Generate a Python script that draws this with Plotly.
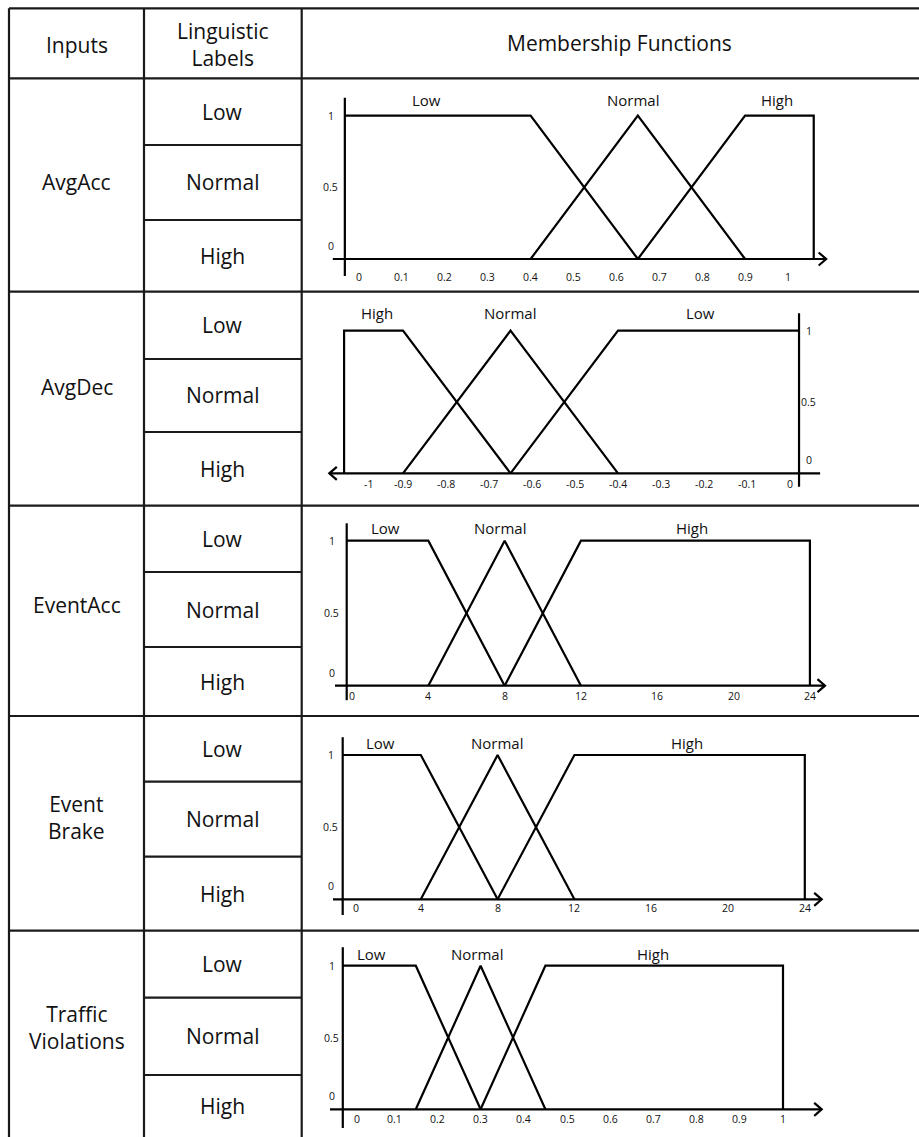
import plotly.graph_objects as go

W, H = 919, 1137

# ---------------- data ----------------
HEADERS = ["Inputs", "Linguistic<br>Labels", "Membership Functions"]
INPUTS = ["AvgAcc", "AvgDec", "EventAcc", "Event<br>Brake", "Traffic<br>Violations"]
LINGUISTIC = ["Low", "Normal", "High"]
MU_TICKS = [0, 0.5, 1]
MU_TICK_TEXT = ["0", "0.5", "1"]

# AvgAcc
AVGACC_LOW_X = [-0.033, 0.4, 0.65]
AVGACC_LOW_MU = [1, 1, 0]
AVGACC_NORMAL_X = [0.4, 0.65, 0.9]
AVGACC_NORMAL_MU = [0, 1, 0]
AVGACC_HIGH_X = [0.65, 0.9, 1.06, 1.06]
AVGACC_HIGH_MU = [0, 1, 1, 0]
AVGACC_TICKS = [0, 0.1, 0.2, 0.3, 0.4, 0.5, 0.6, 0.7, 0.8, 0.9, 1]
AVGACC_TICK_TEXT = ["0", "0.1", "0.2", "0.3", "0.4", "0.5", "0.6", "0.7", "0.8", "0.9", "1"]

# AvgDec
AVGDEC_HIGH_X = [-1.037, -1.037, -0.9, -0.65]
AVGDEC_HIGH_MU = [0, 1, 1, 0]
AVGDEC_NORMAL_X = [-0.9, -0.65, -0.4]
AVGDEC_NORMAL_MU = [0, 1, 0]
AVGDEC_LOW_X = [-0.65, -0.4, 0.02]
AVGDEC_LOW_MU = [0, 1, 1]
AVGDEC_TICKS = [-1, -0.9, -0.8, -0.7, -0.6, -0.5, -0.4, -0.3, -0.2, -0.1, 0]
AVGDEC_TICK_TEXT = ["-1", "-0.9", "-0.8", "-0.7", "-0.6", "-0.5", "-0.4", "-0.3", "-0.2", "-0.1", "0"]

# EventAcc
EVENTACC_LOW_X = [-0.28, 4, 8]
EVENTACC_LOW_MU = [1, 1, 0]
EVENTACC_NORMAL_X = [4, 8, 12]
EVENTACC_NORMAL_MU = [0, 1, 0]
EVENTACC_HIGH_X = [8, 12, 24, 24]
EVENTACC_HIGH_MU = [0, 1, 1, 0]
EVENTACC_TICKS = [0, 4, 8, 12, 16, 20, 24]
EVENTACC_TICK_TEXT = ["0", "4", "8", "12", "16", "20", "24"]

# Event Brake
EVENTBRAKE_LOW_X = [-0.07, 4, 8]
EVENTBRAKE_LOW_MU = [1, 1, 0]
EVENTBRAKE_NORMAL_X = [4, 8, 12]
EVENTBRAKE_NORMAL_MU = [0, 1, 0]
EVENTBRAKE_HIGH_X = [8, 12, 24, 24]
EVENTBRAKE_HIGH_MU = [0, 1, 1, 0]
EVENTBRAKE_TICKS = [0, 4, 8, 12, 16, 20, 24]
EVENTBRAKE_TICK_TEXT = ["0", "4", "8", "12", "16", "20", "24"]

# Traffic Violations
TRAFFIC_LOW_X = [-0.019, 0.15, 0.3]
TRAFFIC_LOW_MU = [1, 1, 0]
TRAFFIC_NORMAL_X = [0.15, 0.3, 0.45]
TRAFFIC_NORMAL_MU = [0, 1, 0]
TRAFFIC_HIGH_X = [0.3, 0.45, 1.0, 1.0]
TRAFFIC_HIGH_MU = [0, 1, 1, 0]
TRAFFIC_TICKS = [0, 0.1, 0.2, 0.3, 0.4, 0.5, 0.6, 0.7, 0.8, 0.9, 1]
TRAFFIC_TICK_TEXT = ["0", "0.1", "0.2", "0.3", "0.4", "0.5", "0.6", "0.7", "0.8", "0.9", "1"]

# ---------------- layout / style (pixels) ----------------
FONT = "Open Sans"
INK = "#111111"
GRID = "#1a1a1a"
LW = 2.2
TABLE_FONT = 21

COL_X = [9, 144, 301.7]
ROW_Y = [8.3, 78.3, 291.7, 505.7, 716, 930.7, 1137]
SUB_Y = [(145, 220), (359, 432), (572, 647), (781.7, 856.7), (997.7, 1075)]
INPUT_LABEL_Y = [181.7, 387.3, 605, 817.5, 1027.5]

PLOTS = [
    dict(sets={"Low": (AVGACC_LOW_X, AVGACC_LOW_MU), "Normal": (AVGACC_NORMAL_X, AVGACC_NORMAL_MU),
               "High": (AVGACC_HIGH_X, AVGACC_HIGH_MU)},
         ticks=(AVGACC_TICKS, AVGACC_TICK_TEXT),
         xcal=(359, 429), ycal=(259, 115.7),
         yaxis_x=-0.033, yaxis_span=(-0.119, 1.126), xaxis_span=(-0.061, 1.089), arrow="right",
         ylab_dx=-14, tick_dy=-17.7, tick_dx={},
         label_pos={"Low": 0.158, "Normal": 0.639, "High": 0.974}, label_y=1.11),
    dict(sets={"High": (AVGDEC_HIGH_X, AVGDEC_HIGH_MU), "Normal": (AVGDEC_NORMAL_X, AVGDEC_NORMAL_MU),
               "Low": (AVGDEC_LOW_X, AVGDEC_LOW_MU)},
         ticks=(AVGDEC_TICKS, AVGDEC_TICK_TEXT),
         xcal=(790, 430), ycal=(473.3, 330.7),
         yaxis_x=0.021, yaxis_span=(-0.094, 1.122), xaxis_span=(0.07, -1.0714), arrow="left",
         ylab_dx=9.5, tick_dy=-11, tick_dx={"-1": 8},
         label_pos={"High": -0.961, "Normal": -0.651, "Low": -0.209}, label_y=1.122),
    dict(sets={"Low": (EVENTACC_LOW_X, EVENTACC_LOW_MU), "Normal": (EVENTACC_NORMAL_X, EVENTACC_NORMAL_MU),
               "High": (EVENTACC_HIGH_X, EVENTACC_HIGH_MU)},
         ticks=(EVENTACC_TICKS, EVENTACC_TICK_TEXT),
         xcal=(352, 19.08), ycal=(685.7, 540.7),
         yaxis_x=-0.278, yaxis_span=(-0.1, 1.12), xaxis_span=(-0.891, 24.79), arrow="right",
         ylab_dx=-15, tick_dy=-10.3, tick_dx={},
         label_pos={"Low": 1.73, "Normal": 7.76, "High": 17.8}, label_y=1.0855),
    dict(sets={"Low": (EVENTBRAKE_LOW_X, EVENTBRAKE_LOW_MU), "Normal": (EVENTBRAKE_NORMAL_X, EVENTBRAKE_NORMAL_MU),
               "High": (EVENTBRAKE_HIGH_X, EVENTBRAKE_HIGH_MU)},
         ticks=(EVENTBRAKE_TICKS, EVENTBRAKE_TICK_TEXT),
         xcal=(344, 19.2), ycal=(899.3, 755),
         yaxis_x=-0.068, yaxis_span=(-0.108, 1.1227), xaxis_span=(-0.573, 24.88), arrow="right",
         ylab_dx=-12, tick_dy=-9, tick_dx={"0": 12},
         label_pos={"Low": 1.875, "Normal": 7.95, "High": 17.85}, label_y=1.081),
    dict(sets={"Low": (TRAFFIC_LOW_X, TRAFFIC_LOW_MU), "Normal": (TRAFFIC_NORMAL_X, TRAFFIC_NORMAL_MU),
               "High": (TRAFFIC_HIGH_X, TRAFFIC_HIGH_MU)},
         ticks=(TRAFFIC_TICKS, TRAFFIC_TICK_TEXT),
         xcal=(351, 432), ycal=(1109.3, 965.7),
         yaxis_x=-0.019, yaxis_span=(-0.13, 1.128), xaxis_span=(-0.0486, 1.0896), arrow="right",
         ylab_dx=-11, tick_dy=-9.7, tick_dx={"0": 6},
         label_pos={"Low": 0.048, "Normal": 0.291, "High": 0.70}, label_y=1.081),
]

PLOT_LEFT, PLOT_RIGHT = 305, 915


def paper_x(p):
    return p / W


def paper_y(p):
    return 1 - p / H


fig = go.Figure()
shapes = []
annotations = []

# ---------------- table grid ----------------
for y in ROW_Y[:-1]:
    shapes.append(dict(type="line", xref="paper", yref="paper",
                       x0=paper_x(COL_X[0]), x1=1.0, y0=paper_y(y), y1=paper_y(y),
                       line=dict(color=GRID, width=LW)))
for x in COL_X:
    shapes.append(dict(type="line", xref="paper", yref="paper",
                       x0=paper_x(x), x1=paper_x(x), y0=paper_y(ROW_Y[0]), y1=0,
                       line=dict(color=GRID, width=LW)))
for (a, b) in SUB_Y:
    for y in (a, b):
        shapes.append(dict(type="line", xref="paper", yref="paper",
                           x0=paper_x(COL_X[1]), x1=paper_x(COL_X[2]), y0=paper_y(y), y1=paper_y(y),
                           line=dict(color=GRID, width=LW)))

# headers
header_x = [(COL_X[0] + COL_X[1]) / 2, (COL_X[1] + COL_X[2]) / 2, 619]
header_y = [45, 44.5, 43]
for t, x, y in zip(HEADERS, header_x, header_y):
    annotations.append(dict(text=t, x=paper_x(x), y=paper_y(y), xref="paper", yref="paper",
                            showarrow=False, font=dict(family=FONT, size=TABLE_FONT, color=INK),
                            xanchor="center", yanchor="middle"))

# input names and linguistic labels
col1_c = (COL_X[0] + COL_X[1]) / 2
col2_c = (COL_X[1] + COL_X[2]) / 2
for i, name in enumerate(INPUTS):
    annotations.append(dict(text=name, x=paper_x(col1_c), y=paper_y(INPUT_LABEL_Y[i]), xref="paper",
                            yref="paper", showarrow=False,
                            font=dict(family=FONT, size=TABLE_FONT, color=INK),
                            xanchor="center", yanchor="middle"))
    bounds = [ROW_Y[i + 1], SUB_Y[i][0], SUB_Y[i][1], ROW_Y[i + 2]]
    for j, lab in enumerate(LINGUISTIC):
        yc = (bounds[j] + bounds[j + 1]) / 2
        annotations.append(dict(text=lab, x=paper_x(col2_c), y=paper_y(yc), xref="paper", yref="paper",
                                showarrow=False, font=dict(family=FONT, size=TABLE_FONT, color=INK),
                                xanchor="center", yanchor="middle"))

# ---------------- membership function subplots ----------------
layout_axes = {}
for i, p in enumerate(PLOTS):
    n = i + 1
    sfx = "" if n == 1 else str(n)
    xa, ya = "x" + sfx, "y" + sfx
    x0, kx = p["xcal"]
    y0, y1 = p["ycal"]
    ky = y0 - y1
    top = ROW_Y[i + 1] + 2
    bottom = ROW_Y[i + 2] - (2 if i < 4 else 0)
    layout_axes["xaxis" + sfx] = dict(domain=[paper_x(PLOT_LEFT), paper_x(PLOT_RIGHT)],
                                      range=[(PLOT_LEFT - x0) / kx, (PLOT_RIGHT - x0) / kx],
                                      visible=False, anchor=ya, fixedrange=True)
    layout_axes["yaxis" + sfx] = dict(domain=[max(0, paper_y(bottom)), paper_y(top)],
                                      range=[(y0 - bottom) / ky, (y0 - top) / ky],
                                      visible=False, anchor=xa, fixedrange=True)

    # membership function curves
    for name, (xs, mus) in p["sets"].items():
        fig.add_trace(go.Scatter(x=xs, y=mus, mode="lines", name=name,
                                 line=dict(color="black", width=LW),
                                 xaxis=xa, yaxis=ya, hoverinfo="skip", showlegend=False))
        annotations.append(dict(text=name, x=p["label_pos"][name], y=p["label_y"], xref=xa, yref=ya,
                                showarrow=False, font=dict(family=FONT, size=15, color=INK),
                                xanchor="center", yanchor="middle"))

    # axis lines
    xs0, xs1 = p["xaxis_span"]
    shapes.append(dict(type="line", xref=xa, yref=ya, x0=xs0, x1=xs1, y0=0, y1=0,
                       line=dict(color="black", width=LW)))
    ys0, ys1 = p["yaxis_span"]
    shapes.append(dict(type="line", xref=xa, yref=ya, x0=p["yaxis_x"], x1=p["yaxis_x"], y0=ys0, y1=ys1,
                       line=dict(color="black", width=LW)))
    # arrow chevron at the end of the x axis
    tip = xs1
    back = 7.5 / kx * (1 if p["arrow"] == "right" else -1)
    half = 6.5 / ky
    fig.add_trace(go.Scatter(x=[tip - back, tip, tip - back], y=[half, 0, -half], mode="lines",
                             line=dict(color="black", width=LW), xaxis=xa, yaxis=ya,
                             hoverinfo="skip", showlegend=False))

    # x tick labels
    tv, tt = p["ticks"]
    for v, t in zip(tv, tt):
        annotations.append(dict(text=t, x=v, y=0, xref=xa, yref=ya, showarrow=False,
                                xshift=p["tick_dx"].get(t, 0), yshift=p["tick_dy"],
                                font=dict(family=FONT, size=10.5, color=INK),
                                xanchor="center", yanchor="middle"))
    # membership-degree labels
    for v, t in zip(MU_TICKS, MU_TICK_TEXT):
        annotations.append(dict(text=t, x=p["yaxis_x"], y=v, xref=xa, yref=ya, showarrow=False,
                                xshift=p["ylab_dx"], yshift=13 if t == "0" else 0,
                                font=dict(family=FONT, size=10.5, color=INK),
                                xanchor="center", yanchor="middle"))

fig.update_layout(
    width=W, height=H,
    margin=dict(l=0, r=0, t=0, b=0),
    paper_bgcolor="white", plot_bgcolor="white",
    shapes=shapes, annotations=annotations,
    showlegend=False,
    **layout_axes,
)

fig.write_html("out.html", config={"displayModeBar": False},
               post_script="document.body.style.margin='0';document.body.style.overflow='hidden';")
